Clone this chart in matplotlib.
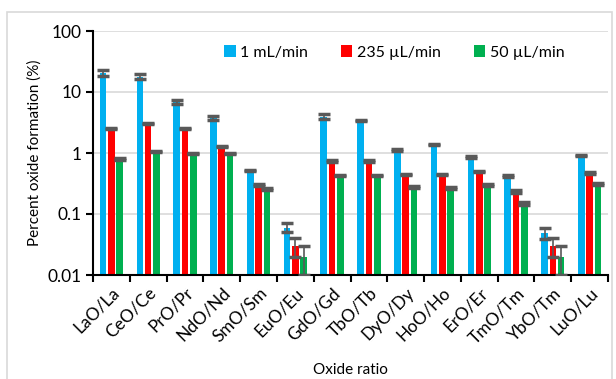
import numpy as np
import matplotlib.pyplot as plt
from matplotlib.patches import Rectangle

categories = ["LaO/La", "CeO/Ce", "PrO/Pr", "NdO/Nd", "SmO/Sm", "EuO/Eu", "GdO/Gd",
              "TbO/Tb", "DyO/Dy", "HoO/Ho", "ErO/Er", "TmO/Tm", "YbO/Tm", "LuO/Lu"]
series_names = ["1 mL/min", "235 \u00b5L/min", "50 \u00b5L/min"]

flow_1ml = [20.5, 17.8, 6.9, 3.75, 0.51, 0.06, 3.95, 3.4, 1.13, 1.38, 0.86, 0.42, 0.049, 0.9]
flow_235 = [2.5, 3.0, 2.5, 1.27, 0.295, 0.03, 0.74, 0.74, 0.45, 0.44, 0.49, 0.235, 0.03, 0.47]
flow_50 = [0.8, 1.04, 0.99, 0.97, 0.26, 0.02, 0.43, 0.43, 0.28, 0.27, 0.3, 0.15, 0.02, 0.31]

err_1ml = [2.3, 1.6, 0.5, 0.3, 0.01, 0.01, 0.35, 0.05, 0.05, 0.02, 0.02, 0.01, 0.01, 0.02]
err_235 = [0.05, 0.05, 0.05, 0.03, 0.01, 0.01, 0.02, 0.02, 0.01, 0.01, 0.01, 0.01, 0.01, 0.01]
err_50 = [0.02, 0.02, 0.02, 0.02, 0.01, 0.01, 0.01, 0.01, 0.01, 0.01, 0.01, 0.01, 0.01, 0.01]

colors = ["#00B0F0", "#FF0000", "#00B050"]

plt.rcParams['font.family'] = ['Lato', 'DejaVu Sans']

fig = plt.figure(figsize=(6.16, 3.79), dpi=100)
ax = fig.add_axes([93 / 616, 1 - 275 / 379, 515 / 616, 244 / 379])

# light frame around the chart
fig.patches.append(Rectangle((7 / 616, -0.02), 605 / 616, 1 - 12 / 379 + 0.02,
                             transform=fig.transFigure, fill=False,
                             edgecolor="#D9D9D9", linewidth=1.2))

x = np.arange(len(categories))
width = 0.18
step = 0.226
all_vals = [flow_1ml, flow_235, flow_50]
all_errs = [err_1ml, err_235, err_50]
for i, (vals, errs) in enumerate(zip(all_vals, all_errs)):
    pos = x + (i - 1) * step
    ax.bar(pos, vals, width=width, color=colors[i], label=series_names[i], zorder=2)
    ax.errorbar(pos, vals, yerr=errs, fmt="none", ecolor="#595959",
                elinewidth=1.2, capsize=4.3, capthick=2.5, zorder=3)

ax.set_yscale("log")
ax.set_ylim(0.01, 100)
ax.set_yticks([0.01, 0.1, 1, 10, 100])
ax.set_yticklabels(["0.01", "0.1", "1", "10", "100"])
ax.minorticks_off()
ax.set_xlim(-0.5, len(categories) - 0.5)

ax.set_xticks(x)
ax.set_xticklabels(categories, rotation=45, ha="right", rotation_mode="anchor")
ax.tick_params(axis="x", length=0, labelsize=12.5, pad=7)
ax.set_xticks(np.arange(len(categories) + 1) - 0.5, minor=True)
ax.tick_params(axis="x", which="minor", length=5, width=1.5, direction="out")
ax.tick_params(axis="y", labelsize=12.5, length=5, width=1.5, direction="out")

ax.yaxis.grid(True, color="#D9D9D9", linewidth=1.2, zorder=0)
ax.set_axisbelow(True)
for side in ["top", "right"]:
    ax.spines[side].set_visible(False)
ax.spines["left"].set_linewidth(1.5)
ax.spines["bottom"].set_linewidth(1.5)

ax.set_ylabel("Percent oxide formation (%)", fontsize=11, labelpad=4)
ax.set_xlabel("Oxide ratio", fontsize=11, labelpad=12)

ax.legend(loc="upper center", bbox_to_anchor=(0.585, 1.0), ncol=3, frameon=False,
          fontsize=11.5, handlelength=0.7, handleheight=0.7, columnspacing=2.05,
          handletextpad=0.3)

plt.savefig("out.png", dpi=100)
